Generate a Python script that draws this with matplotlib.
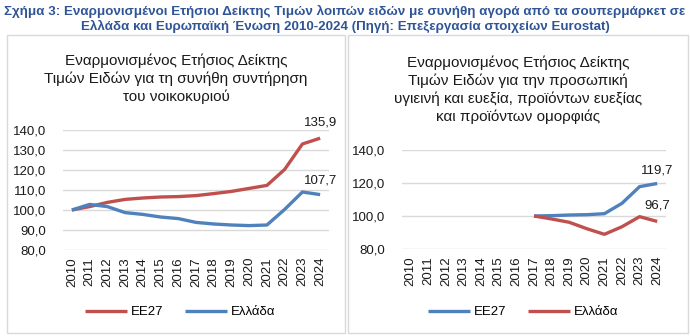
import matplotlib
matplotlib.use("Agg")
import matplotlib.pyplot as plt
from matplotlib.patches import Rectangle

plt.rcParams['font.family'] = ['Liberation Sans', 'DejaVu Sans']

years = list(range(2010, 2025))
year_labels = [str(y) for y in years]

# Household maintenance goods (2015 base, 2010 = 100)
hh_eu27 = [100.0, 101.7, 103.8, 105.3, 106.0, 106.5, 106.7, 107.2, 108.2,
           109.3, 110.8, 112.3, 120.3, 133.0, 135.9]
hh_greece = [100.0, 102.8, 101.7, 98.7, 97.8, 96.5, 95.7, 93.8, 93.0,
             92.5, 92.2, 92.5, 100.3, 109.0, 107.7]

# Personal care / health & beauty products (2017 = 100)
pc_years = list(range(2017, 2025))
pc_eu27 = [100.0, 100.2, 100.6, 100.8, 101.4, 107.7, 117.8, 119.7]
pc_greece = [100.0, 98.2, 96.2, 92.3, 88.9, 93.5, 99.6, 96.7]

series_names = ['ΕΕ27', 'Ελλάδα']
red = '#C0504D'
blue = '#4F81BD'
grid_c = '#D9D9D9'
text_c = '#1a1a1a'

W, H = 690, 336
fig = plt.figure(figsize=(W / 100, H / 100), dpi=100)
fig.patch.set_facecolor('white')

def fx(px):
    return px / W

def fy(py):
    return 1 - py / H

# panel frames
for x0, x1 in [(7, 345), (348, 688)]:
    fig.patches.append(Rectangle((fx(x0), fy(333)), fx(x1 - x0), (333 - 35) / H,
                                 transform=fig.transFigure, fill=False,
                                 edgecolor='#D9D9D9', linewidth=1.0))

fig.text(0.5, fy(11), 'Σχήμα 3: Εναρμονισμένοι Ετήσιοι Δείκτης Τιμών λοιπών ειδών με συνήθη αγορά από τα σουπερμάρκετ σε',
         ha='center', va='center', fontsize=9.6, fontweight='bold', color='#2F5597')
fig.text(0.5, fy(26), 'Ελλάδα και Ευρωπαϊκή Ένωση 2010-2024 (Πηγή: Επεξεργασία στοιχείων Eurostat)',
         ha='center', va='center', fontsize=9.6, fontweight='bold', color='#2F5597')


def style_axis(ax, ymin, ymax, step):
    ax.set_xlim(-0.5, len(years) - 0.5)
    ax.set_ylim(ymin, ymax)
    ticks = list(range(ymin, ymax + 1, step))
    ax.set_yticks(ticks)
    ax.set_yticklabels([f'{t},0' for t in ticks], fontsize=9.5, color=text_c)
    ax.set_xticks(range(len(years)))
    ax.set_xticklabels(year_labels, rotation=90, fontsize=9.5, color=text_c)
    for s in ax.spines.values():
        s.set_visible(False)
    ax.tick_params(length=0, pad=5)
    ax.tick_params(axis='y', pad=12)
    ax.grid(axis='y', color=grid_c, linewidth=1.0)
    ax.set_axisbelow(True)
    ax.set_facecolor('white')


# Left panel
ax1 = fig.add_axes([fx(63), fy(250), fx(329 - 63), (250 - 130) / H])
style_axis(ax1, 80, 140, 10)
x_all = list(range(len(years)))
l1, = ax1.plot(x_all, hh_eu27, color=red, lw=2.4, solid_capstyle='butt')
l2, = ax1.plot(x_all, hh_greece, color=blue, lw=2.4, solid_capstyle='butt')
ax1.annotate(f'{hh_eu27[-1]:.1f}'.replace('.', ','), (x_all[-1], hh_eu27[-1]),
             xytext=(0, 7), textcoords='offset points', ha='center', va='bottom',
             fontsize=9.5, color=text_c)
ax1.annotate(f'{hh_greece[-1]:.1f}'.replace('.', ','), (x_all[-1], hh_greece[-1]),
             xytext=(0, 6), textcoords='offset points', ha='center', va='bottom',
             fontsize=9.5, color=text_c)
fig.text(fx(176), fy(79), 'Εναρμονισμένος Ετήσιος Δείκτης\nΤιμών Ειδών για τη συνήθη συντήρηση\nτου νοικοκυριού',
         ha='center', va='center', fontsize=11, linespacing=1.3, color=text_c)
fig.legend([l1, l2], series_names, loc='center', bbox_to_anchor=(fx(180), fy(312)),
           ncol=2, frameon=False, fontsize=9.5, handlelength=3.2, columnspacing=1.6,
           handletextpad=0.3)

# Right panel
ax2 = fig.add_axes([fx(402), fy(249), fx(666 - 402), (249 - 150) / H])
style_axis(ax2, 80, 140, 20)
x_pc = [years.index(y) for y in pc_years]
r1, = ax2.plot(x_pc, pc_eu27, color=blue, lw=2.4, solid_capstyle='butt')
r2, = ax2.plot(x_pc, pc_greece, color=red, lw=2.4, solid_capstyle='butt')
ax2.annotate(f'{pc_eu27[-1]:.1f}'.replace('.', ','), (x_pc[-1], pc_eu27[-1]),
             xytext=(0, 5), textcoords='offset points', ha='center', va='bottom',
             fontsize=9.5, color=text_c)
ax2.annotate(f'{pc_greece[-1]:.1f}'.replace('.', ','), (x_pc[-1], pc_greece[-1]),
             xytext=(0, 7), textcoords='offset points', ha='center', va='bottom',
             fontsize=9.5, color=text_c)
fig.text(fx(518), fy(90), 'Εναρμονισμένος Ετήσιος Δείκτης\nΤιμών Ειδών για την προσωπική\nυγιεινή και ευεξία, προϊόντων ευεξίας\nκαι προϊόντων ομορφιάς',
         ha='center', va='center', fontsize=11, linespacing=1.3, color=text_c)
fig.legend([r1, r2], series_names, loc='center', bbox_to_anchor=(fx(523), fy(312)),
           ncol=2, frameon=False, fontsize=9.5, handlelength=3.2, columnspacing=1.6,
           handletextpad=0.3)

fig.savefig('out.png', dpi=100, facecolor='white')
